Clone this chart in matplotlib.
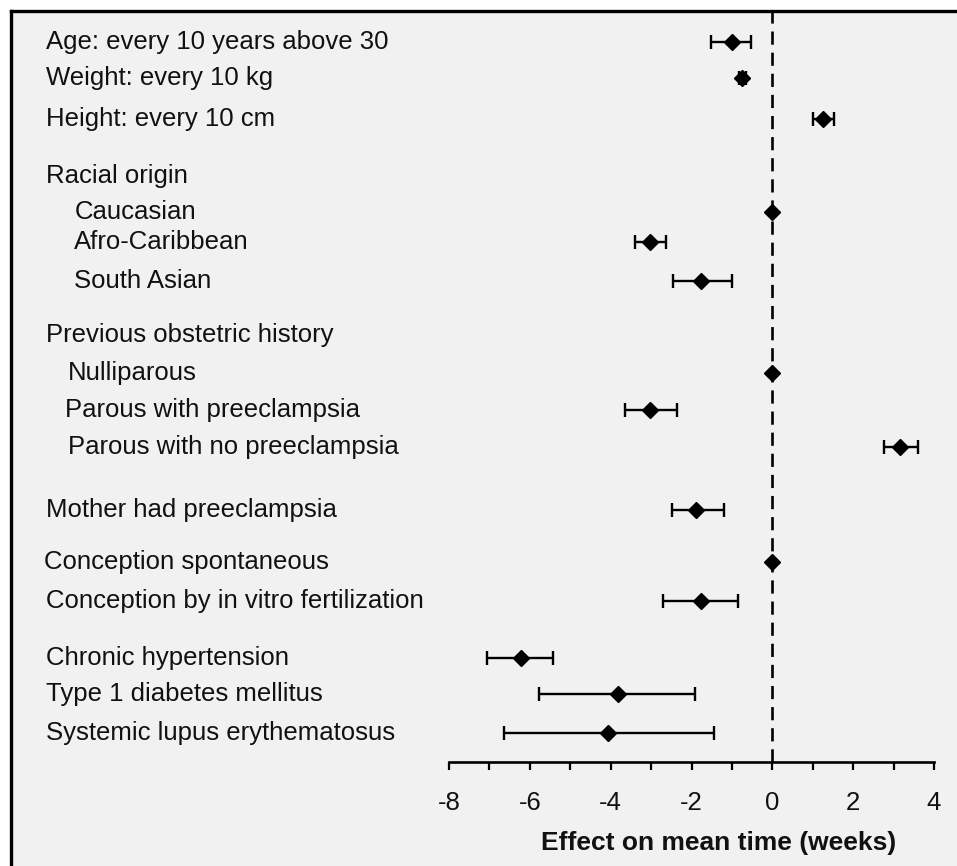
import numpy as np
import matplotlib.pyplot as plt
import matplotlib.transforms as mtransforms
from matplotlib.patches import Rectangle
from matplotlib.lines import Line2D

# rows of the forest plot, headers have no estimate
labels = [
    "Age: every 10 years above 30",
    "Weight: every 10 kg",
    "Height: every 10 cm",
    "Racial origin",
    "Caucasian",
    "Afro-Caribbean",
    "South Asian",
    "Previous obstetric history",
    "Nulliparous",
    "Parous with preeclampsia",
    "Parous with no preeclampsia",
    "Mother had preeclampsia",
    "Conception spontaneous",
    "Conception by in vitro fertilization",
    "Chronic hypertension",
    "Type 1 diabetes mellitus",
    "Systemic lupus erythematosus",
]
effect = [-1.00, -0.74, 1.26, np.nan, 0.0, -3.03, -1.76, np.nan, 0.0, -3.03, 3.16,
          -1.89, 0.0, -1.77, -6.23, -3.83, -4.06]
ci_low = [-1.52, -0.82, 1.00, np.nan, 0.0, -3.40, -2.47, np.nan, 0.0, -3.64, 2.76,
          -2.48, 0.0, -2.71, -7.07, -5.77, -6.64]
ci_high = [-0.53, -0.65, 1.53, np.nan, 0.0, -2.64, -0.99, np.nan, 0.0, -2.37, 3.61,
           -1.20, 0.0, -0.84, -5.42, -1.92, -1.44]
reference = ["Caucasian", "Nulliparous", "Conception spontaneous"]
x_ticks = [-8, -6, -4, -2, 0, 2, 4]

# layout: row heights (pixels from top) and label indents
W, H = 957, 866
row_y = [42, 78, 119, 176, 212, 242, 281, 335, 373, 410, 447, 510, 562, 601, 658, 694, 733]
indent = [46, 46, 46, 46, 75, 74, 74, 46, 68, 65, 68, 46, 44, 46, 46, 46, 46]
axis_y = 762

plt.rcParams['font.family'] = ['Liberation Sans', 'DejaVu Sans']
fig = plt.figure(figsize=(W / 100, H / 100), dpi=100, facecolor='white')

# grey panel with black top/left frame
fig.patches.append(Rectangle((11 / W, 0), 1, 1 - 11 / H, transform=fig.transFigure,
                             facecolor='#f1f1f1', edgecolor='none', zorder=-10))
fig.lines.append(Line2D([11 / W, 1], [1 - 11 / H, 1 - 11 / H], transform=fig.transFigure,
                        color='black', lw=2.4, zorder=10))
fig.lines.append(Line2D([11 / W, 11 / W], [0, 1 - 11 / H], transform=fig.transFigure,
                        color='black', lw=2.4, zorder=10))

x0, x1 = 449, 934
top = 12
ax = fig.add_axes([x0 / W, (H - axis_y) / H, (x1 - x0) / W, (axis_y - top) / H])
ax.set_facecolor('none')
ax.set_xlim(-8, 4)
ax.set_ylim(axis_y, top)

eff = np.array(effect)
lo = np.array(ci_low)
hi = np.array(ci_high)
ys = np.array(row_y, dtype=float)
has_ci = ~np.isnan(eff) & np.array([l not in reference for l in labels])
ax.errorbar(eff[has_ci], ys[has_ci],
            xerr=[eff[has_ci] - lo[has_ci], hi[has_ci] - eff[has_ci]],
            fmt='none', ecolor='black', elinewidth=1.7, capsize=4.8, capthick=1.7, zorder=3)
ok = ~np.isnan(eff)
ax.plot(eff[ok], ys[ok], linestyle='none', marker='D', markersize=7.8,
        color='black', zorder=4)

ax.axvline(0, color='black', lw=1.9, linestyle=(0, (5, 3)), zorder=2)

lab_tf = mtransforms.blended_transform_factory(fig.transFigure, ax.transData)
for lab, y, xi in zip(labels, row_y, indent):
    ax.text(xi / W, y, lab, transform=lab_tf, ha='left', va='center',
            fontsize=18.5, color='#111111')

for side in ['top', 'right', 'left']:
    ax.spines[side].set_visible(False)
ax.spines['bottom'].set_linewidth(1.9)
ax.set_yticks([])
ax.set_xticks(x_ticks)
ax.set_xticks(np.arange(-8, 5, 1), minor=True)
ax.tick_params(axis='x', which='both', direction='out', length=6, width=1.6)
ax.tick_params(axis='x', which='major', pad=15, labelsize=18.5, labelcolor='#111111')
ax.set_xticklabels([str(t) for t in x_ticks])

ax.set_xlabel("Effect on mean time (weeks)", fontsize=19, fontweight='bold', color='#111111')
ax.xaxis.set_label_coords((719 - x0) / (x1 - x0), (axis_y - 843) / (axis_y - top))
ax.xaxis.label.set_va('center')

fig.savefig('out.png', dpi=100, facecolor='white')
